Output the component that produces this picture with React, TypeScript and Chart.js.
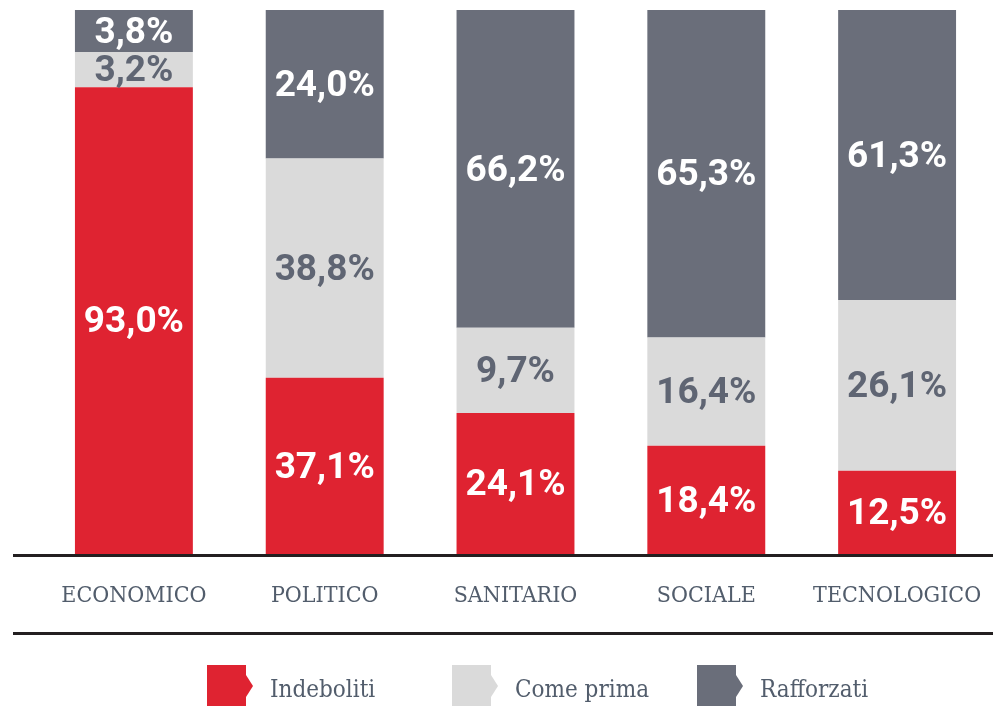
import React, { useEffect, useRef } from "react";
import { Chart, registerables } from "chart.js";

Chart.register(...registerables);

const categories = ["ECONOMICO", "POLITICO", "SANITARIO", "SOCIALE", "TECNOLOGICO"];
const seriesNames = ["Indeboliti", "Come prima", "Rafforzati"];

// segment heights as drawn in the reference (percent of bar height)
const indebolitiDrawn = [85.8, 32.4, 25.9, 19.9, 15.3];
const comePrimaDrawn = [6.5, 40.3, 15.7, 19.9, 31.4];
const rafforzatiDrawn = [7.7, 27.3, 58.4, 60.2, 53.3];

// percentages printed on the segments
const indebolitiPct = [93.0, 37.1, 24.1, 18.4, 12.5];
const comePrimaPct = [3.2, 38.8, 9.7, 16.4, 26.1];
const rafforzatiPct = [3.8, 24.0, 66.2, 65.3, 61.3];

const COLORS = ["#df2331", "#dadada", "#6a6e7a"];
const LABEL_COLORS = ["#ffffff", "#5f6573", "#ffffff"];
const TEXT_COLOR = "#525d6c";
const LINE_COLOR = "#231f20";
const SERIF = "'DejaVu Serif Condensed', 'DejaVu Serif', serif";
const VALUE_FONT = "bold 37px Roboto, 'DejaVu Sans', sans-serif";

const fmt = (v: number) => v.toFixed(1).replace(".", ",") + "%";

const decorPlugin = {
  id: "decor",
  afterDatasetsDraw(chart: any) {
    const ctx = chart.ctx;
    const area = chart.chartArea;
    ctx.save();
    // value labels
    const pctSets = [indebolitiPct, comePrimaPct, rafforzatiPct];
    chart.data.datasets.forEach((ds: any, di: number) => {
      const meta = chart.getDatasetMeta(di);
      meta.data.forEach((el: any, i: number) => {
        const cy = (el.y + el.base) / 2;
        ctx.font = VALUE_FONT;
        ctx.fillStyle = LABEL_COLORS[di];
        ctx.textAlign = "center";
        ctx.textBaseline = "middle";
        ctx.fillText(fmt(pctSets[di][i]), el.x, cy + 2.5);
      });
    });
    // axis lines
    ctx.fillStyle = LINE_COLOR;
    ctx.fillRect(13, area.bottom, chart.width - 13, 3);
    ctx.fillRect(13, 632, chart.width - 13, 3);
    // legend
    chart.data.datasets.forEach((ds: any, di: number) => {
      const x0 = 207 + di * 245;
      const y0 = 665;
      ctx.fillStyle = ds.backgroundColor;
      ctx.fillRect(x0, y0, 39, 41);
      ctx.beginPath();
      ctx.moveTo(x0 + 39, y0 + 10);
      ctx.lineTo(x0 + 46, y0 + 21);
      ctx.lineTo(x0 + 39, y0 + 32);
      ctx.closePath();
      ctx.fill();
      ctx.font = `24px ${SERIF}`;
      ctx.fillStyle = TEXT_COLOR;
      ctx.textAlign = "left";
      ctx.textBaseline = "alphabetic";
      ctx.fillText(ds.label, x0 + 63, 697);
    });
    ctx.restore();
  },
};

export default function App() {
  const ref = useRef<HTMLCanvasElement>(null);
  useEffect(() => {
    document.body.style.margin = "0";
    const drawn = [indebolitiDrawn, comePrimaDrawn, rafforzatiDrawn];
    const chart = new Chart(ref.current!, {
      type: "bar",
      data: {
        labels: categories,
        datasets: seriesNames.map((name, i) => ({
          label: name,
          data: drawn[i],
          backgroundColor: COLORS[i],
          borderWidth: 0,
          barPercentage: 0.618,
          categoryPercentage: 1,
        })),
      },
      options: {
        responsive: false,
        animation: false,
        devicePixelRatio: 1,
        layout: { padding: { left: 38.5, right: 0.5, top: 10, bottom: 92 } },
        plugins: { legend: { display: false }, tooltip: { enabled: false } },
        scales: {
          x: {
            stacked: true,
            grid: { display: false, drawTicks: false },
            border: { display: false },
            ticks: {
              color: TEXT_COLOR,
              font: { family: SERIF, size: 23 },
              padding: 28,
              maxRotation: 0,
              autoSkip: false,
            },
            afterFit: (s: any) => {
              s.height = 60;
              s.paddingLeft = 0;
              s.paddingRight = 0;
            },
          },
          y: {
            stacked: true,
            display: false,
            min: 0,
            max: 100,
          },
        },
      },
      plugins: [decorPlugin],
    });
    return () => chart.destroy();
  }, []);
  return (
    <div style={{ width: 993, height: 706 }}>
      <canvas ref={ref} width={993} height={706} style={{ display: "block" }} />
    </div>
  );
}
